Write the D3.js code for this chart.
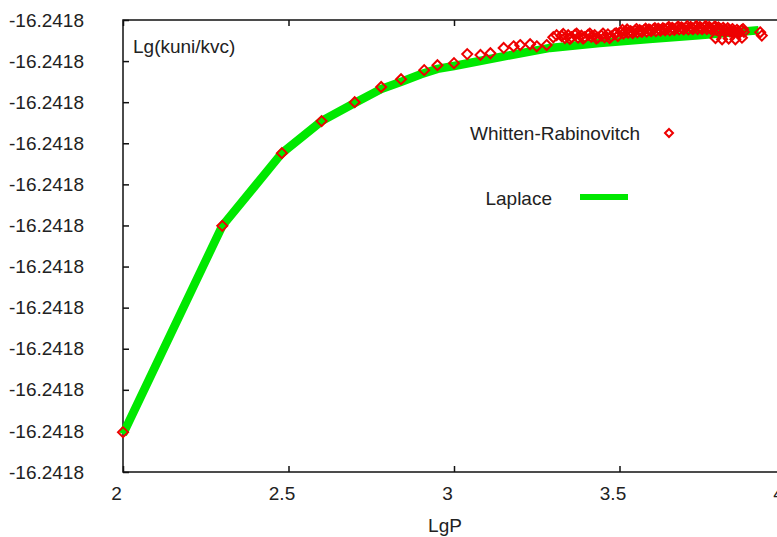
<!DOCTYPE html>
<html>
<head>
<meta charset="utf-8">
<script src="https://cdn.jsdelivr.net/npm/d3@7"></script>
<style>
  body { margin: 0; background: #fff; }
  text { font-family: "Liberation Sans", Arial, sans-serif; fill: #222; }
</style>
</head>
<body>
<svg class="container"></svg>
<script>
// tick labels (all values round to the same 4 decimals)
const xTicks = [2, 2.5, 3, 3.5, 4];
const yTicks = [0, 1, 2, 3, 4, 5, 6, 7, 8, 9, 10, 11];
const yTickLabels = ["-16.2418", "-16.2418", "-16.2418", "-16.2418", "-16.2418", "-16.2418",
  "-16.2418", "-16.2418", "-16.2418", "-16.2418", "-16.2418", "-16.2418"];

// Laplace curve (y in tick steps)
const laplaceLgP = [2.00, 2.30, 2.48, 2.60, 2.70, 2.78, 2.845, 2.90, 2.95, 3.00, 3.14, 3.29, 3.44, 3.59, 3.74, 3.92];
const laplaceLgK = [0.92, 5.99, 7.76, 8.54, 8.98, 9.32, 9.51, 9.68, 9.81, 9.88, 10.10, 10.32, 10.44, 10.54, 10.63, 10.75];

// Whitten-Rabinovitch points
const wrLgP = [2.00, 2.30, 2.48, 2.60, 2.70, 2.78, 2.84, 2.91, 2.95, 3.00, 3.04, 3.08, 3.11, 3.15, 3.18, 3.20, 3.23, 3.25, 3.28, 3.30, 3.31,
  3.325, 3.335, 3.345, 3.355, 3.365, 3.375, 3.385, 3.395, 3.405, 3.415, 3.425, 3.435, 3.445, 3.455, 3.465, 3.475, 3.485, 3.495,
  3.33, 3.35, 3.37, 3.39, 3.41, 3.43, 3.45, 3.47, 3.49,
  3.505, 3.512, 3.519, 3.526, 3.533, 3.540, 3.547, 3.554, 3.561, 3.568, 3.575, 3.582, 3.589, 3.596, 3.603, 3.610, 3.617, 3.624,
  3.631, 3.638, 3.645, 3.652, 3.659, 3.666, 3.673, 3.680, 3.687, 3.694, 3.701, 3.708, 3.715, 3.722, 3.729, 3.736, 3.743, 3.750,
  3.757, 3.764, 3.771, 3.778, 3.785, 3.792, 3.799, 3.806, 3.813, 3.820, 3.827, 3.834, 3.841, 3.848, 3.855, 3.862, 3.869, 3.876,
  3.509, 3.523, 3.537, 3.551, 3.565, 3.579, 3.593, 3.607, 3.621, 3.635, 3.649, 3.663, 3.677, 3.691, 3.705, 3.719, 3.733, 3.747,
  3.761, 3.775, 3.789, 3.803, 3.817, 3.831, 3.845, 3.859, 3.873,
  3.79, 3.81, 3.83, 3.85, 3.87, 3.925, 3.93];
const wrLgK = [0.97, 5.99, 7.76, 8.54, 9.00, 9.37, 9.56, 9.78, 9.90, 9.95, 10.17, 10.15, 10.19, 10.32, 10.36, 10.39, 10.41, 10.36, 10.39, 10.58, 10.63,
  10.61, 10.56, 10.63, 10.58, 10.64, 10.57, 10.62, 10.58, 10.64, 10.59, 10.63, 10.57, 10.62, 10.58, 10.65, 10.60, 10.66, 10.61,
  10.66, 10.54, 10.67, 10.55, 10.67, 10.55, 10.67, 10.56, 10.68,
  10.70, 10.67, 10.72, 10.69, 10.73, 10.68, 10.74, 10.70, 10.75, 10.71, 10.76, 10.72, 10.77, 10.73, 10.78, 10.73, 10.79, 10.74,
  10.80, 10.75, 10.80, 10.75, 10.81, 10.76, 10.81, 10.77, 10.82, 10.77, 10.82, 10.77, 10.83, 10.78, 10.83, 10.78, 10.83, 10.78,
  10.83, 10.78, 10.83, 10.77, 10.82, 10.76, 10.82, 10.75, 10.81, 10.74, 10.80, 10.72, 10.78, 10.70, 10.76, 10.69, 10.75, 10.71,
  10.76, 10.77, 10.71, 10.78, 10.73, 10.79, 10.75, 10.80, 10.76, 10.78, 10.83, 10.78, 10.84, 10.80, 10.85, 10.80, 10.85, 10.80,
  10.85, 10.80, 10.84, 10.79, 10.77, 10.76, 10.74, 10.72, 10.78,
  10.56, 10.53, 10.55, 10.53, 10.57, 10.70, 10.62];

const W = 777, H = 537;
const margin = { top: 20, left: 123, bottom: 65 };
const plotRight = 785; // the x=4 edge sits just outside the window

const svg = d3.select(".container").attr("width", W).attr("height", H);

const xScale = d3.scaleLinear().domain([2, 4]).range([margin.left, plotRight]);
const yScale = d3.scaleLinear().domain([0, 11]).range([H - margin.bottom, margin.top]);

const laplace = laplaceLgP.map((p, i) => ({ p, k: laplaceLgK[i] }));
const wr = wrLgP.map((p, i) => ({ p, k: wrLgK[i] }));

const green = "#00e800", red = "#ee0000";

// frame
svg.append("rect")
  .attr("x", margin.left).attr("y", margin.top)
  .attr("width", plotRight - margin.left).attr("height", yScale(0) - margin.top)
  .attr("fill", "none").attr("stroke", "#111").attr("stroke-width", 1.5);

// axes, ticks pointing inward
const yAxis = svg.append("g").attr("transform", `translate(${margin.left},0)`)
  .call(d3.axisLeft(yScale).tickValues(yTicks).tickSize(-6).tickPadding(39)
    .tickFormat((d, i) => yTickLabels[i]));
const xAxis = svg.append("g").attr("transform", `translate(0,${yScale(0)})`)
  .call(d3.axisBottom(xScale).tickValues(xTicks).tickSize(-6).tickPadding(15)
    .tickFormat(d3.format("")));
const topAxis = svg.append("g").attr("transform", `translate(0,${margin.top})`)
  .call(d3.axisTop(xScale).tickValues(xTicks).tickSize(-6).tickFormat(""));

[yAxis, xAxis, topAxis].forEach(g => {
  g.select(".domain").remove();
  g.selectAll(".tick line").attr("stroke", "#111").attr("stroke-width", 1.5);
  g.selectAll("text").attr("font-size", 19).attr("fill", "#222")
    .attr("font-family", "Liberation Sans, Arial, sans-serif");
});
xAxis.selectAll("text").attr("dx", -7);

// axis titles
svg.append("text").attr("x", 133).attr("y", 53).attr("font-size", 19).text("Lg(kuni/kvc)");
svg.append("text").attr("x", 445).attr("y", 532).attr("text-anchor", "middle").attr("font-size", 19).text("LgP");

// Laplace line
const line = d3.line().x(d => xScale(d.p)).y(d => yScale(d.k));
svg.append("path").datum(laplace)
  .attr("d", line).attr("fill", "none")
  .attr("stroke", green).attr("stroke-width", 8.5).attr("stroke-linejoin", "round");

// Whitten-Rabinovitch diamonds
const diamond = "M0,-5L5,0L0,5L-5,0Z";
svg.selectAll(".wr").data(wr).join("path")
  .attr("class", "wr")
  .attr("transform", d => `translate(${xScale(d.p)},${yScale(d.k)})`)
  .attr("d", diamond)
  .attr("fill", "none").attr("stroke", red).attr("stroke-width", 2);

// legend
svg.append("text").attr("x", 640).attr("y", 140).attr("text-anchor", "end").attr("font-size", 19).text("Whitten-Rabinovitch");
svg.append("path").attr("transform", "translate(669,133)").attr("d", "M0,-4L4,0L0,4L-4,0Z")
  .attr("fill", "none").attr("stroke", red).attr("stroke-width", 2);
svg.append("text").attr("x", 552).attr("y", 205).attr("text-anchor", "end").attr("font-size", 19).text("Laplace");
svg.append("line").attr("x1", 580).attr("x2", 628).attr("y1", 197).attr("y2", 197)
  .attr("stroke", green).attr("stroke-width", 6);
</script>
</body>
</html>
